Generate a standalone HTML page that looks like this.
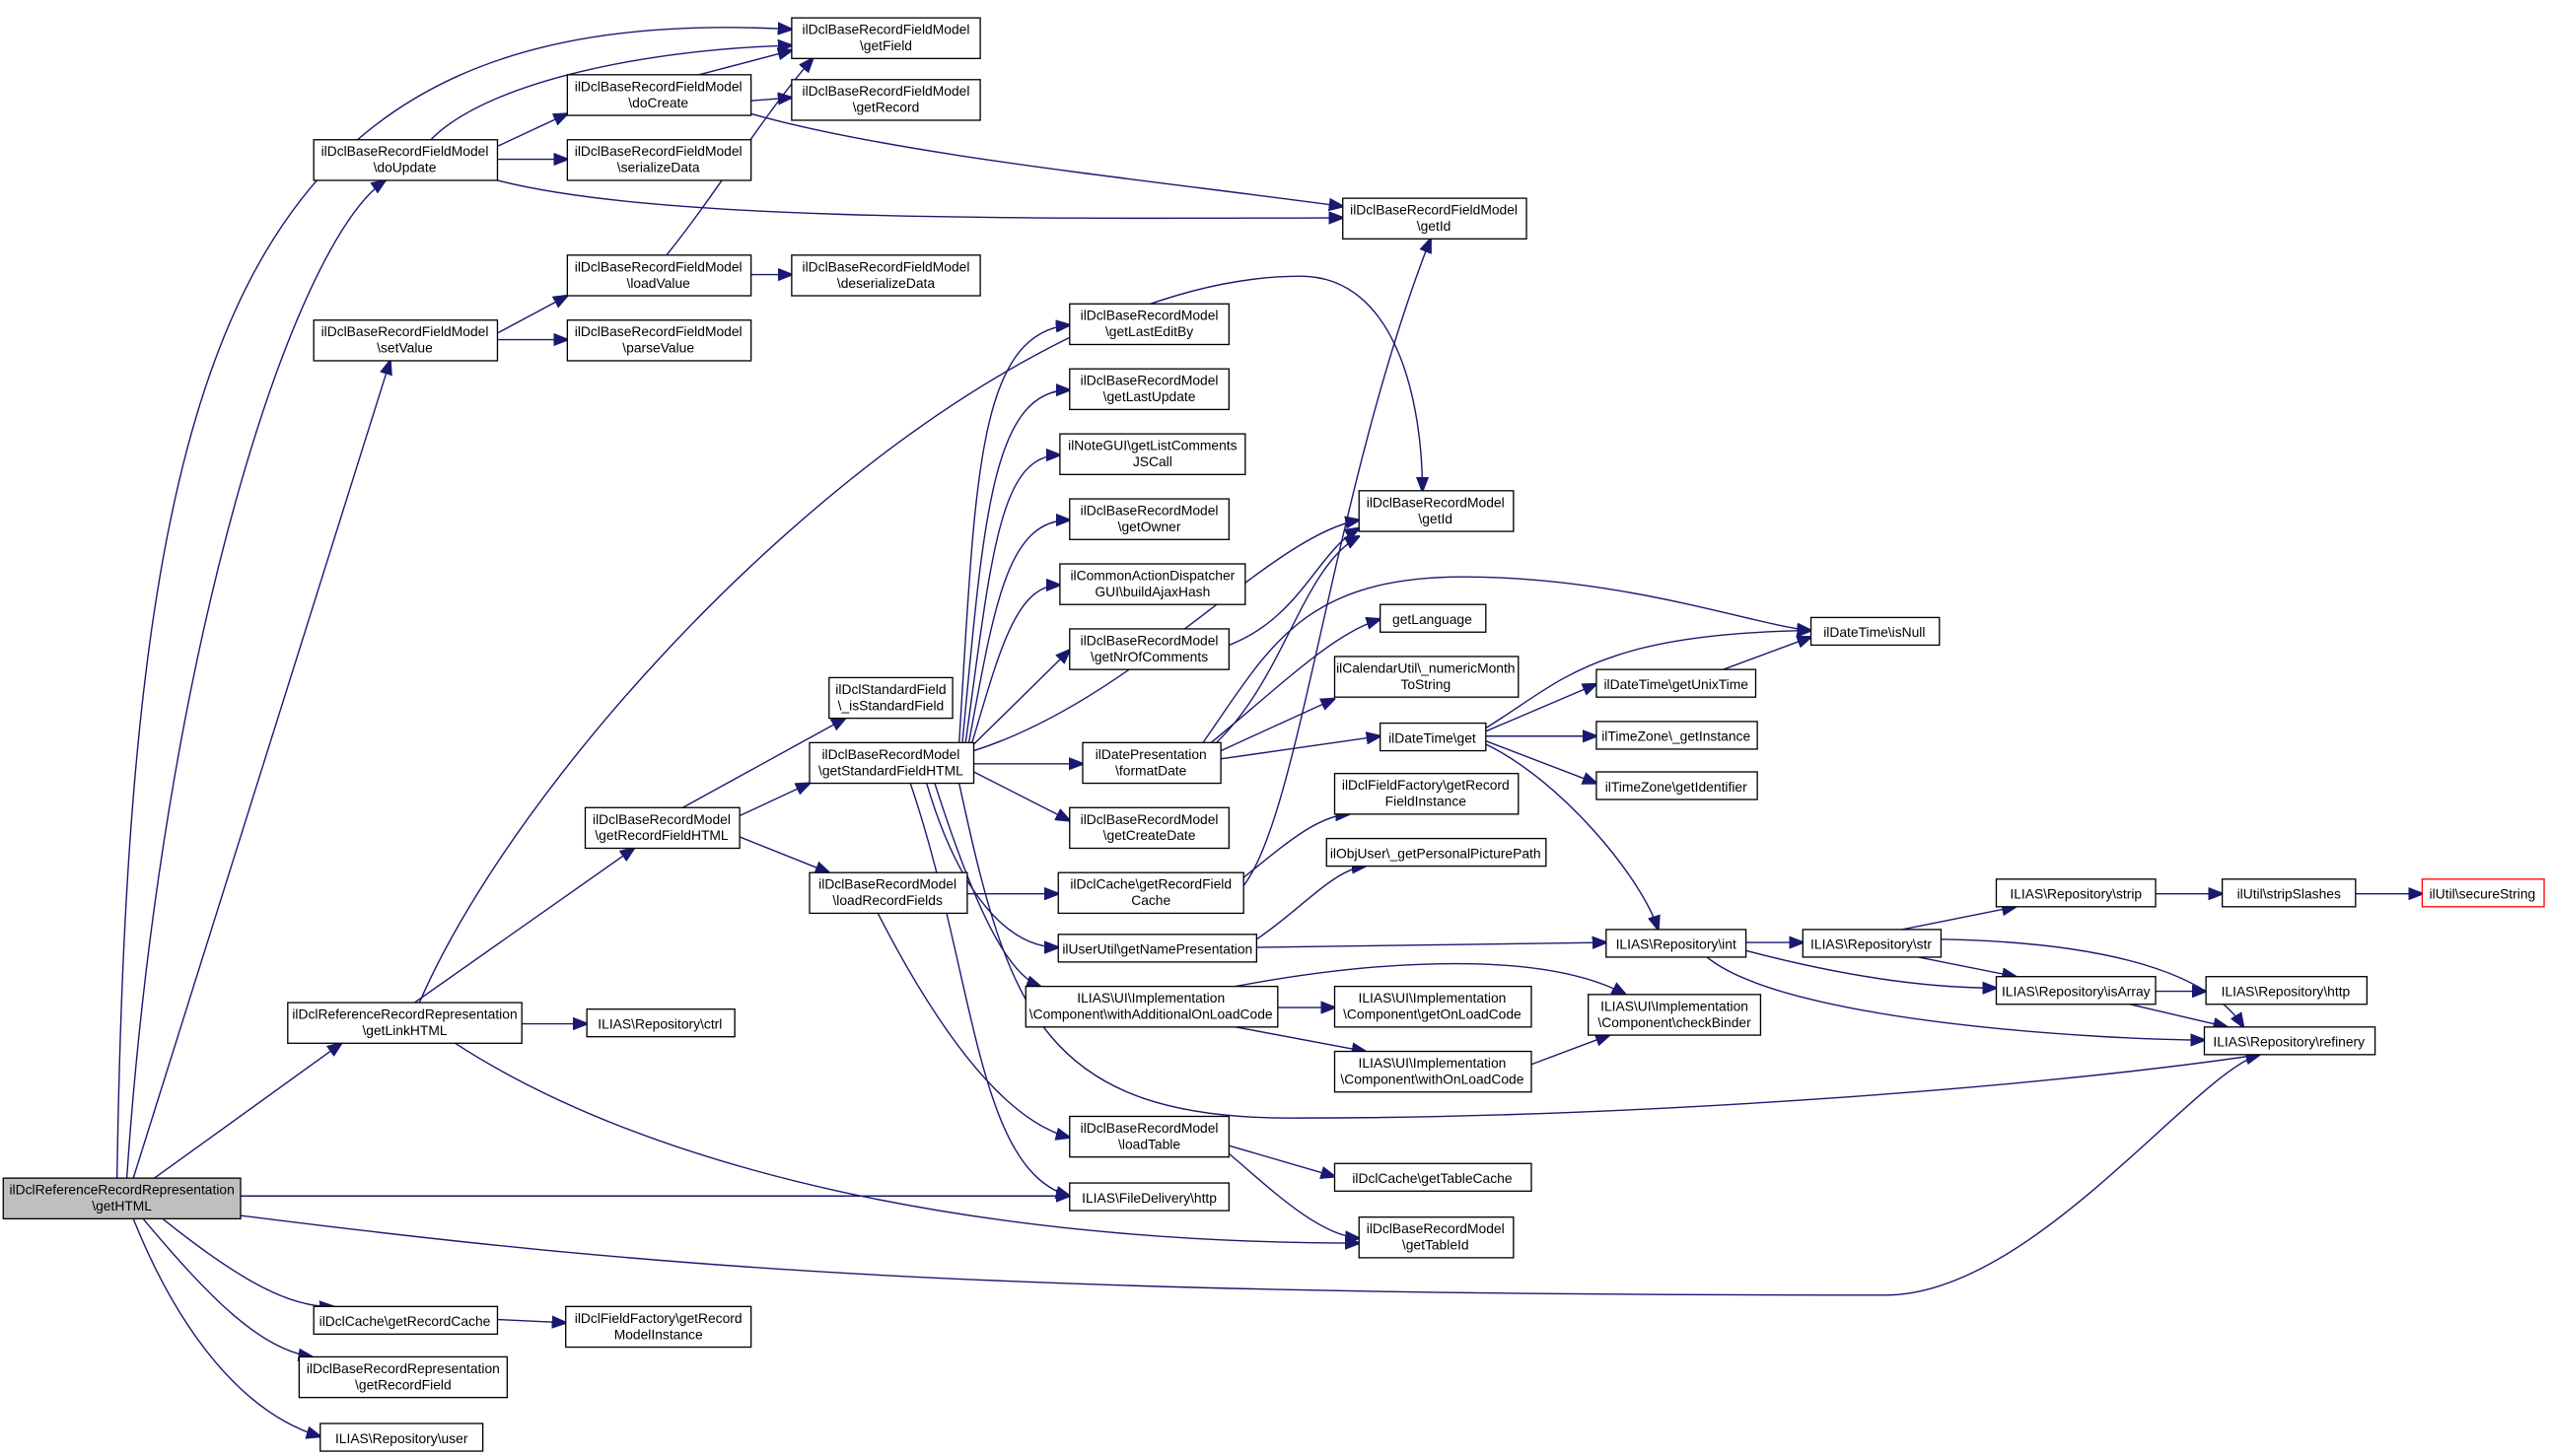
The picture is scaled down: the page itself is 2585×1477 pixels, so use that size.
<!DOCTYPE html>
<html><head><meta charset="utf-8"><style>
html,body{margin:0;padding:0;background:#fff}
svg{display:block}
text{font-family:"Liberation Sans",Arial,sans-serif;font-size:8.4px;fill:#000;text-anchor:middle}
.n{fill:#fff;stroke:#000;stroke-width:0.8}
.e{fill:none;stroke:#191970;stroke-width:0.85}
</style></head><body>
<svg width="2585" height="1477" viewBox="0 0 1568 896" preserveAspectRatio="none" xmlns="http://www.w3.org/2000/svg">
<defs><marker id="a" markerWidth="9" markerHeight="8" refX="8.5" refY="4" orient="auto" markerUnits="userSpaceOnUse"><path d="M0,0.5 L9,4 L0,7.5 Z" fill="#191970" stroke="#191970"/></marker></defs>
<g class="e" marker-end="url(#a)">
<path d="M72,725 C80,200 150,0 487,18"/>
<path d="M78,725 C100,400 180,150 237,111"/>
<path d="M82,725 L240,222"/>
<path d="M95,725 L210,642"/>
<path d="M258,617 C330,450 600,170 800,170 C860,170 875,250 875,302"/>
<path d="M148,736 L658,736"/>
<path d="M280,642 C400,720 600,765 836,765"/>
<path d="M148,748 C400,780 600,797 1160,797 C1250,797 1350,660 1390,649"/>
<path d="M100,750 C150,790 180,805 205,804"/>
<path d="M88,750 C130,800 160,830 192,835"/>
<path d="M82,750 C110,820 150,870 197,884"/>
<path d="M265,86 C300,50 400,30 487,28"/>
<path d="M306,90 L349,70"/>
<path d="M306,98 L349,98"/>
<path d="M306,111 C400,135 600,135 826,134"/>
<path d="M430,46 L487,31"/>
<path d="M462,62 L487,60"/>
<path d="M462,70 C550,95 700,110 826,127"/>
<path d="M410,157 C440,120 470,70 500,36"/>
<path d="M462,169 L487,169"/>
<path d="M306,205 L349,182"/>
<path d="M306,209 L349,209"/>
<path d="M255,617 L390,522"/>
<path d="M321,630 L361,630"/>
<path d="M420,497 L520,442"/>
<path d="M455,502 L498,482"/>
<path d="M455,515 L510,537"/>
<path d="M590,457 C600,300 600,205 658,200"/>
<path d="M592,457 C605,320 610,240 658,240"/>
<path d="M594,457 C610,340 615,280 652,280"/>
<path d="M596,457 C612,370 620,320 658,320"/>
<path d="M598,457 C615,400 625,360 652,360"/>
<path d="M599,458 L658,400"/>
<path d="M599,462 C700,430 780,330 836,320"/>
<path d="M599,470 L666,470"/>
<path d="M599,475 L658,505"/>
<path d="M570,482 C590,550 620,583 651,583"/>
<path d="M575,482 C600,560 620,600 640,607"/>
<path d="M560,482 C600,600 600,720 658,736"/>
<path d="M590,482 C620,620 640,690 800,688 C1000,688 1250,670 1390,649"/>
<path d="M740,457 C780,400 800,355 900,355 C1000,355 1080,385 1114,388"/>
<path d="M745,457 C790,420 820,390 849,381"/>
<path d="M751,462 L821,430"/>
<path d="M751,467 L849,453"/>
<path d="M745,460 C790,420 800,350 836,330"/>
<path d="M756,397 C800,380 810,340 836,325"/>
<path d="M914,448 C960,420 980,390 1114,388"/>
<path d="M914,450 L982,421"/>
<path d="M914,453 L982,453"/>
<path d="M914,456 L982,482"/>
<path d="M914,458 C960,480 1010,540 1020,572"/>
<path d="M1060,412 L1114,392"/>
<path d="M765,545 C800,500 820,300 880,147"/>
<path d="M765,540 C790,520 810,502 830,501"/>
<path d="M595,550 L651,550"/>
<path d="M540,562 C580,640 620,690 658,700"/>
<path d="M773,578 C800,560 820,535 840,533"/>
<path d="M773,583 L988,580"/>
<path d="M1074,580 L1109,580"/>
<path d="M1074,585 C1150,605 1200,608 1228,608"/>
<path d="M1050,589 C1100,630 1300,640 1356,640"/>
<path d="M1170,572 L1240,558"/>
<path d="M1180,589 L1240,601"/>
<path d="M1194,578 C1300,580 1360,600 1380,632"/>
<path d="M1326,550 L1367,550"/>
<path d="M1449,550 L1490,550"/>
<path d="M1326,610 L1357,610"/>
<path d="M1310,618 L1370,632"/>
<path d="M786,620 L821,620"/>
<path d="M760,607 C850,590 950,585 1000,612"/>
<path d="M760,632 L840,647"/>
<path d="M942,655 L990,637"/>
<path d="M756,705 L821,724"/>
<path d="M756,710 C780,730 810,760 836,762"/>
<path d="M306,812 L348,814"/>
</g>
<g>
<rect x="2" y="725" width="146" height="25" fill="#bfbfbf" stroke="#000" stroke-width="0.8"/><text x="75" y="735">ilDclReferenceRecordRepresentation</text><text x="75" y="745">\getHTML</text>
<rect class="n" x="487" y="11" width="116" height="25"/><text x="545" y="21">ilDclBaseRecordFieldModel</text><text x="545" y="31">\getField</text>
<rect class="n" x="349" y="46" width="113" height="25"/><text x="405" y="56">ilDclBaseRecordFieldModel</text><text x="405" y="66">\doCreate</text>
<rect class="n" x="487" y="49" width="116" height="25"/><text x="545" y="59">ilDclBaseRecordFieldModel</text><text x="545" y="69">\getRecord</text>
<rect class="n" x="193" y="86" width="113" height="25"/><text x="249" y="96">ilDclBaseRecordFieldModel</text><text x="249" y="106">\doUpdate</text>
<rect class="n" x="349" y="86" width="113" height="25"/><text x="405" y="96">ilDclBaseRecordFieldModel</text><text x="405" y="106">\serializeData</text>
<rect class="n" x="826" y="122" width="113" height="25"/><text x="882" y="132">ilDclBaseRecordFieldModel</text><text x="882" y="142">\getId</text>
<rect class="n" x="349" y="157" width="113" height="25"/><text x="405" y="167">ilDclBaseRecordFieldModel</text><text x="405" y="177">\loadValue</text>
<rect class="n" x="487" y="157" width="116" height="25"/><text x="545" y="167">ilDclBaseRecordFieldModel</text><text x="545" y="177">\deserializeData</text>
<rect class="n" x="193" y="197" width="113" height="25"/><text x="249" y="207">ilDclBaseRecordFieldModel</text><text x="249" y="217">\setValue</text>
<rect class="n" x="349" y="197" width="113" height="25"/><text x="405" y="207">ilDclBaseRecordFieldModel</text><text x="405" y="217">\parseValue</text>
<rect class="n" x="658" y="187" width="98" height="25"/><text x="707" y="197">ilDclBaseRecordModel</text><text x="707" y="207">\getLastEditBy</text>
<rect class="n" x="658" y="227" width="98" height="25"/><text x="707" y="237">ilDclBaseRecordModel</text><text x="707" y="247">\getLastUpdate</text>
<rect class="n" x="652" y="267" width="114" height="25"/><text x="709" y="277">ilNoteGUI\getListComments</text><text x="709" y="287">JSCall</text>
<rect class="n" x="658" y="307" width="98" height="25"/><text x="707" y="317">ilDclBaseRecordModel</text><text x="707" y="327">\getOwner</text>
<rect class="n" x="652" y="347" width="114" height="25"/><text x="709" y="357">ilCommonActionDispatcher</text><text x="709" y="367">GUI\buildAjaxHash</text>
<rect class="n" x="836" y="302" width="95" height="25"/><text x="883" y="312">ilDclBaseRecordModel</text><text x="883" y="322">\getId</text>
<rect class="n" x="658" y="387" width="98" height="25"/><text x="707" y="397">ilDclBaseRecordModel</text><text x="707" y="407">\getNrOfComments</text>
<rect class="n" x="849" y="372" width="65" height="17"/><text x="881" y="384">getLanguage</text>
<rect class="n" x="1114" y="380" width="79" height="17"/><text x="1153" y="392">ilDateTime\isNull</text>
<rect class="n" x="821" y="404" width="113" height="25"/><text x="877" y="414">ilCalendarUtil\_numericMonth</text><text x="877" y="424">ToString</text>
<rect class="n" x="982" y="412" width="98" height="17"/><text x="1031" y="424">ilDateTime\getUnixTime</text>
<rect class="n" x="510" y="417" width="76" height="25"/><text x="548" y="427">ilDclStandardField</text><text x="548" y="437">\_isStandardField</text>
<rect class="n" x="498" y="457" width="101" height="25"/><text x="548" y="467">ilDclBaseRecordModel</text><text x="548" y="477">\getStandardFieldHTML</text>
<rect class="n" x="666" y="457" width="85" height="25"/><text x="708" y="467">ilDatePresentation</text><text x="708" y="477">\formatDate</text>
<rect class="n" x="849" y="445" width="65" height="17"/><text x="881" y="457">ilDateTime\get</text>
<rect class="n" x="982" y="444" width="99" height="17"/><text x="1031" y="456">ilTimeZone\_getInstance</text>
<rect class="n" x="982" y="475" width="99" height="17"/><text x="1031" y="487">ilTimeZone\getIdentifier</text>
<rect class="n" x="658" y="497" width="98" height="25"/><text x="707" y="507">ilDclBaseRecordModel</text><text x="707" y="517">\getCreateDate</text>
<rect class="n" x="821" y="476" width="113" height="25"/><text x="877" y="486">ilDclFieldFactory\getRecord</text><text x="877" y="496">FieldInstance</text>
<rect class="n" x="360" y="497" width="95" height="25"/><text x="407" y="507">ilDclBaseRecordModel</text><text x="407" y="517">\getRecordFieldHTML</text>
<rect class="n" x="816" y="516" width="135" height="17"/><text x="883" y="528">ilObjUser\_getPersonalPicturePath</text>
<rect class="n" x="498" y="537" width="97" height="25"/><text x="546" y="547">ilDclBaseRecordModel</text><text x="546" y="557">\loadRecordFields</text>
<rect class="n" x="651" y="537" width="114" height="25"/><text x="708" y="547">ilDclCache\getRecordField</text><text x="708" y="557">Cache</text>
<rect class="n" x="1228" y="541" width="98" height="17"/><text x="1277" y="553">ILIAS\Repository\strip</text>
<rect class="n" x="1367" y="541" width="82" height="17"/><text x="1408" y="553">ilUtil\stripSlashes</text>
<rect x="1490" y="541" width="75" height="17" fill="#fff" stroke="#ff0000" stroke-width="0.8"/><text x="1527" y="553">ilUtil\secureString</text>
<rect class="n" x="651" y="575" width="122" height="17"/><text x="712" y="587">ilUserUtil\getNamePresentation</text>
<rect class="n" x="988" y="572" width="86" height="17"/><text x="1031" y="584">ILIAS\Repository\int</text>
<rect class="n" x="1109" y="572" width="85" height="17"/><text x="1151" y="584">ILIAS\Repository\str</text>
<rect class="n" x="1228" y="601" width="98" height="17"/><text x="1277" y="613">ILIAS\Repository\isArray</text>
<rect class="n" x="1357" y="601" width="99" height="17"/><text x="1406" y="613">ILIAS\Repository\http</text>
<rect class="n" x="631" y="607" width="155" height="25"/><text x="708" y="617">ILIAS\UI\Implementation</text><text x="708" y="627">\Component\withAdditionalOnLoadCode</text>
<rect class="n" x="821" y="607" width="121" height="25"/><text x="881" y="617">ILIAS\UI\Implementation</text><text x="881" y="627">\Component\getOnLoadCode</text>
<rect class="n" x="977" y="612" width="106" height="25"/><text x="1030" y="622">ILIAS\UI\Implementation</text><text x="1030" y="632">\Component\checkBinder</text>
<rect class="n" x="1356" y="632" width="105" height="17"/><text x="1408" y="644">ILIAS\Repository\refinery</text>
<rect class="n" x="177" y="617" width="144" height="25"/><text x="249" y="627">ilDclReferenceRecordRepresentation</text><text x="249" y="637">\getLinkHTML</text>
<rect class="n" x="361" y="621" width="91" height="17"/><text x="406" y="633">ILIAS\Repository\ctrl</text>
<rect class="n" x="821" y="647" width="121" height="25"/><text x="881" y="657">ILIAS\UI\Implementation</text><text x="881" y="667">\Component\withOnLoadCode</text>
<rect class="n" x="658" y="687" width="98" height="25"/><text x="707" y="697">ilDclBaseRecordModel</text><text x="707" y="707">\loadTable</text>
<rect class="n" x="821" y="716" width="121" height="17"/><text x="881" y="728">ilDclCache\getTableCache</text>
<rect class="n" x="658" y="728" width="98" height="17"/><text x="707" y="740">ILIAS\FileDelivery\http</text>
<rect class="n" x="836" y="749" width="95" height="25"/><text x="883" y="759">ilDclBaseRecordModel</text><text x="883" y="769">\getTableId</text>
<rect class="n" x="193" y="804" width="113" height="17"/><text x="249" y="816">ilDclCache\getRecordCache</text>
<rect class="n" x="348" y="804" width="114" height="25"/><text x="405" y="814">ilDclFieldFactory\getRecord</text><text x="405" y="824">ModelInstance</text>
<rect class="n" x="184" y="835" width="128" height="25"/><text x="248" y="845">ilDclBaseRecordRepresentation</text><text x="248" y="855">\getRecordField</text>
<rect class="n" x="197" y="876" width="100" height="17"/><text x="247" y="888">ILIAS\Repository\user</text>
</g>
</svg>
</body></html>
